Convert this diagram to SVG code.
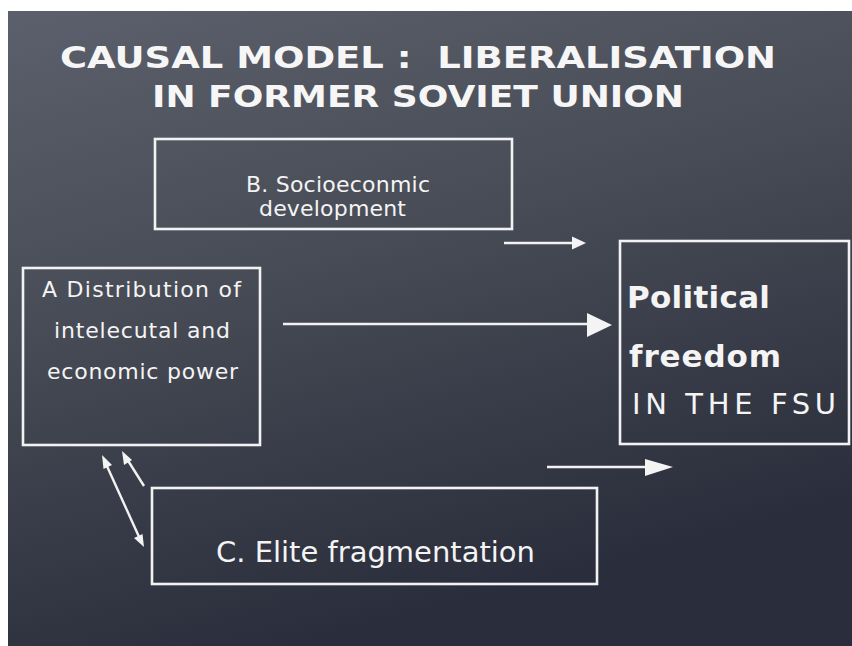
<svg xmlns="http://www.w3.org/2000/svg" width="852" height="646" viewBox="0 0 852 646">
<defs>
<linearGradient id="bg" x1="0" y1="0" x2="0.35" y2="1">
<stop offset="0" stop-color="#5b606c"/>
<stop offset="0.45" stop-color="#484c56"/>
<stop offset="1" stop-color="#2a2d3b"/>
</linearGradient>
<style>
.box{fill:none;stroke:#f2f2f2;stroke-width:2.6}
.t{fill:#f4f4f4;font-family:"DejaVu Sans","Noto Sans",sans-serif;text-anchor:start}
.title{fill:#f6f6f6;font-family:"DejaVu Sans",sans-serif;font-weight:bold;font-size:31px;text-anchor:middle}
.ln{stroke:#f2f2f2;stroke-width:2.4;fill:none}
.hd{fill:#f4f4f4}
</style>
</defs>
<rect width="852" height="646" fill="#ffffff"/>
<rect x="8" y="11" width="844" height="635" fill="url(#bg)"/>
<g id="title">
<text class="title" x="418" y="68" textLength="716" lengthAdjust="spacingAndGlyphs">CAUSAL MODEL :&#160; LIBERALISATION</text>
<text class="title" x="418" y="107" textLength="532" lengthAdjust="spacingAndGlyphs">IN FORMER SOVIET UNION</text>
</g>
<g id="nodeB">
<rect class="box" x="155" y="139" width="357" height="90"/>
<text class="t" x="246" y="192" font-size="22" textLength="184">B. Socioeconmic</text>
<text class="t" x="259" y="216" font-size="22" textLength="147">development</text>
</g>
<g id="nodeA">
<rect class="box" x="23" y="268" width="237" height="177"/>
<text class="t" x="42" y="297" font-size="22" textLength="199">A Distribution of</text>
<text class="t" x="54" y="338" font-size="22" textLength="176">intelecutal and</text>
<text class="t" x="47" y="379" font-size="22" textLength="191">economic power</text>
</g>
<g id="nodePF">
<rect class="box" x="620" y="241" width="229" height="203"/>
<text class="t" x="627" y="308" font-size="31" font-weight="bold" textLength="143">Political</text>
<text class="t" x="629" y="367" font-size="31" font-weight="bold" textLength="152">freedom</text>
<text class="t" x="632" y="414" font-size="29" textLength="204">IN THE FSU</text>
</g>
<g id="nodeC">
<rect class="box" x="152" y="488" width="445" height="96"/>
<text class="t" x="216" y="562" font-size="29" textLength="319">C. Elite fragmentation</text>
</g>
<g id="connectors">
<line class="ln" x1="504" y1="243" x2="574" y2="243"/>
<polygon class="hd" points="586,243 572,236.5 572,249.5"/>
<line class="ln" x1="283" y1="324" x2="590" y2="324"/>
<polygon class="hd" points="612,325 587,313 587,337"/>
<line class="ln" x1="547" y1="467" x2="648" y2="467"/>
<polygon class="hd" points="673,467 645,459 645,476"/>
<line class="ln" x1="106" y1="464" x2="140" y2="539"/>
<polygon class="hd" points="102,455 103.5,469 112,465"/>
<polygon class="hd" points="144,547 134,538 142.5,534"/>
<line class="ln" x1="127" y1="459" x2="144" y2="486"/>
<polygon class="hd" points="122,451 124,465 132,460"/>
</g>
</svg>
